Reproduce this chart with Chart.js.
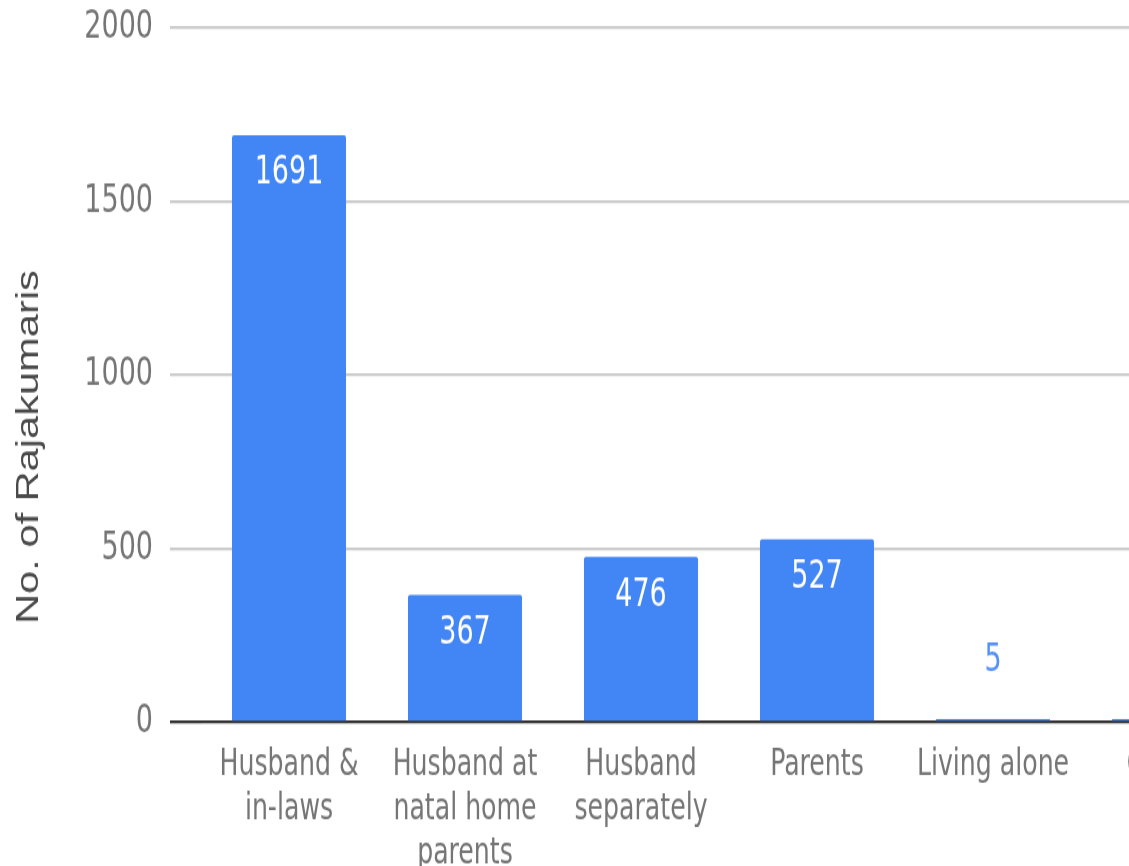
<!DOCTYPE html>
<html>
<head>
<meta charset="utf-8">
<script src="https://cdn.jsdelivr.net/npm/chart.js@4"></script>
<style>
  html, body { margin: 0; padding: 0; background: #fff; overflow: hidden; }
  #wrap { width: 1129px; height: 866px; overflow: hidden; }
</style>
</head>
<body>
<!-- chart is drawn 666px tall and stretched to 866px like the source image -->
<div id="wrap"><canvas id="chart" width="1260" height="666" style="width:1260px;height:866px;display:block"></canvas></div>
<script>
const categories = [
    ['Husband &', 'in-laws'],
    ['Husband at', 'natal home', 'parents'],
    ['Husband', 'separately'],
    'Parents',
    'Living alone',
    'Others'
];
const counts = [1691, 367, 476, 527, 5, 8];
const yTicks = [0, 500, 1000, 1500, 2000];

const narrow = '"Liberation Sans Narrow", "DejaVu Sans Condensed", "Arial Narrow", sans-serif';
const BLUE = '#4285f4';

// value labels: inside the bar top when it fits, above it otherwise
const valueLabels = {
    id: 'valueLabels',
    afterDatasetsDraw(chart) {
        const ctx = chart.ctx;
        const meta = chart.getDatasetMeta(0);
        ctx.save();
        ctx.font = '30px ' + narrow;
        ctx.textAlign = 'center';
        ctx.textBaseline = 'middle';
        meta.data.forEach((bar, i) => {
            const h = bar.base - bar.y;
            if (h > 40) {
                ctx.fillStyle = '#ffffff';
                ctx.fillText(counts[i], bar.x, bar.y + 29.5);
            } else {
                ctx.fillStyle = '#5591f5';
                ctx.fillText(counts[i], bar.x, bar.y - 45);
            }
        });
        ctx.restore();
    }
};

new Chart(document.getElementById('chart'), {
    type: 'bar',
    data: {
        labels: categories,
        datasets: [{
            data: counts,
            backgroundColor: BLUE,
            borderRadius: 2,
            borderSkipped: 'bottom',
            categoryPercentage: 1,
            barPercentage: 0.648,
            minBarLength: 2.5
        }]
    },
    options: {
        responsive: false,
        animation: false,
        layout: { padding: { top: 21.5, right: 3, bottom: 0, left: 0 } },
        plugins: {
            legend: { display: false },
            tooltip: { enabled: false },
            title: {
                display: true,
                position: 'left',
                text: 'No. of Rajakumaris',
                color: '#4a4a4a',
                font: { family: '"Liberation Sans", Arial, sans-serif', size: 32, weight: 'normal', lineHeight: 1.2 },
                padding: { top: 10, bottom: 0 }
            }
        },
        scales: {
            x: {
                grid: { display: false, drawTicks: false },
                border: { display: false },
                ticks: {
                    autoSkip: false,
                    maxRotation: 0,
                    padding: 16.5,
                    color: '#757575',
                    font: { family: narrow, size: 28, lineHeight: '34px' }
                },
                afterFit(scale) { scale.height = 110.6; }
            },
            y: {
                min: 0,
                max: 2000,
                afterBuildTicks(scale) { scale.ticks = yTicks.map(v => ({ value: v })); },
                grid: {
                    color: c => c.tick && c.tick.value === 0 ? '#333333' : '#cccccc',
                    tickColor: c => c.tick && c.tick.value === 0 ? '#333333' : '#cccccc',
                    lineWidth: 2.3,
                    tickLength: 31
                },
                border: { display: false },
                ticks: {
                    padding: 17,
                    color: '#757575',
                    font: { family: narrow, size: 30 },
                    callback: v => String(v)
                },
                afterFit(scale) {
                    scale.width = 152.6;
                    scale.paddingTop = 0;
                    scale.paddingBottom = 0;
                }
            }
        }
    },
    plugins: [valueLabels]
});
</script>
</body>
</html>
